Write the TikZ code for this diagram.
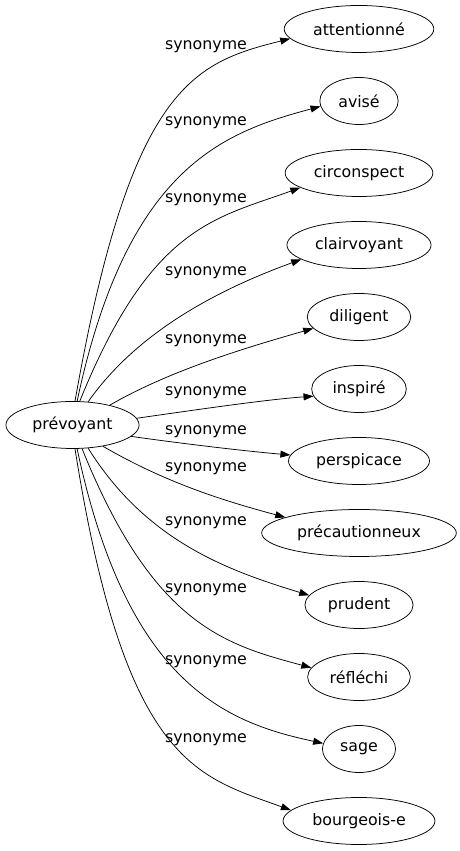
\documentclass[tikz,border=0pt]{standalone}
\usepackage{fontspec}
\setmainfont{DejaVu Sans}
\usetikzlibrary{arrows.meta,shapes.geometric}
\tikzset{
	word/.style={draw,ellipse,inner xsep=7pt,inner ysep=3pt,minimum height=47pt,line width=0.75pt},
	syn/.style={line width=0.75pt,-{Triangle[length=10pt,width=7pt]}},
	lbl/.style={inner sep=0pt}
}

\begin{document}
\begin{tikzpicture}[x=1pt,y=1pt,font=\fontsize{15.8}{19}\selectfont]
			\useasboundingbox (0,0) rectangle (460,851);
			\node[word] (prev)at(72.5,426) {prévoyant};
			
			\node[word] (atte)at(359,822) {attentionné};
			\node[word] (avis)at(359,750) {avisé};
			\node[word] (circ)at(359,678) {circonspect};
			\node[word] (clai)at(359,606) {clairvoyant};
			\node[word] (dili)at(359,534) {diligent};
			\node[word] (insp)at(359,462) {inspiré};
			\node[word] (pers)at(359,390) {perspicace};
			\node[word] (prec)at(359,318) {précautionneux};
			\node[word] (prud)at(359,246) {prudent};
			\node[word] (refl)at(359,174) {réfléchi};
			\node[word] (sage)at(359,102) {sage};
			\node[word] (bour)at(359,30) {bourgeois-e};
			
			\node[lbl] (l1)at(206,804) {synonyme};
			\node[lbl] (l2)at(206,728) {synonyme};
			\node[lbl] (l3)at(206,651) {synonyme};
			\node[lbl] (l4)at(206,578) {synonyme};
			\node[lbl] (l5)at(206,510) {synonyme};
			\node[lbl] (l6)at(206,458) {synonyme};
			\node[lbl] (l7)at(206,419) {synonyme};
			\node[lbl] (l8)at(206,382) {synonyme};
			\node[lbl] (l9)at(206,328) {synonyme};
			\node[lbl] (l10)at(206,261) {synonyme};
			\node[lbl] (l11)at(206,189) {synonyme};
			\node[lbl] (l12)at(206,111) {synonyme};
			
			\draw[syn] (prev.84) to[out=80,in=194,out distance=320pt,in distance=100pt] (atte.188);
			\draw[syn] (prev.79) to[out=78,in=195,out distance=240pt,in distance=100pt] (avis.188);
			\draw[syn] (prev.73) to[out=68,in=200,out distance=190pt,in distance=90pt] (circ.194);
			\draw[syn] (prev.56) to[out=55,in=200,out distance=90pt,in distance=80pt] (clai.194);
			\draw[syn] (prev.28) to[out=30,in=196,out distance=70pt,in distance=70pt] (dili.194);
			\draw[syn] (prev.6) to[out=8,in=184,out distance=50pt,in distance=50pt] (insp.189);
			\draw[syn] (prev.-11) to[out=-8,in=175,out distance=50pt,in distance=50pt] (pers.175);
			\draw[syn] (prev.-35) to[out=-30,in=165,out distance=70pt,in distance=70pt] (prec.168);
			\draw[syn] (prev.-56) to[out=-58,in=163,out distance=110pt,in distance=85pt] (prud.169);
			\draw[syn] (prev.-68) to[out=-68,in=165,out distance=190pt,in distance=90pt] (refl.169);
			\draw[syn] (prev.-79) to[out=-78,in=168,out distance=240pt,in distance=100pt] (sage.171);
			\draw[syn] (prev.-84) to[out=-81,in=160,out distance=320pt,in distance=100pt] (bour.171);
\end{tikzpicture}
\end{document}
